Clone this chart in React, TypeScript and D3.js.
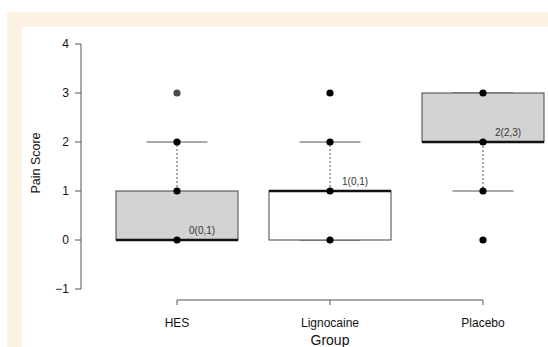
import React from 'react';
import * as d3 from 'd3';

// pain score by group, boxplot summary
const groups = ['HES', 'Lignocaine', 'Placebo'];
const q1 = [0, 0, 2];
const medians = [0, 1, 2];
const q3 = [1, 1, 3];
const whiskLo = [0, 0, 1];
const whiskHi = [2, 2, 3];
const points = [[0, 1, 2], [0, 1, 2, 3], [0, 1, 2, 3]];
const greyPoints = [[3], [], []];
const boxFills = ['#d3d3d3', '#ffffff', '#d3d3d3'];
const annotations = ['0(0,1)', '1(0,1)', '2(2,3)'];
const yTicks = [-1, 0, 1, 2, 3, 4];

const W = 548;
const H = 347;

const App = () => {
  const x = d3.scalePoint().domain(groups).range([177, 483]);
  const y = d3.scaleLinear().domain([-1, 4]).range([289, 44]);
  const boxW = 122;
  const capW = 61;
  const font = "'Liberation Sans', Arial, sans-serif";

  return (
    <svg width={W} height={H} style={{ position: 'absolute', left: 0, top: 0, fontFamily: font }}>
      {/* cream frame */}
      <rect x={0} y={0} width={W} height={H} fill="#fff" />
      <rect x={7} y={12} width={W - 7} height={15} fill="#fcf2e3" />
      <rect x={7} y={12} width={15} height={H - 12} fill="#fcf2e3" />

      {/* y axis */}
      <g stroke="#555" strokeWidth={1}>
        <line x1={81} x2={81} y1={y(-1)} y2={y(4)} />
        {yTicks.map(t => (
          <line key={t} x1={75} x2={81} y1={y(t)} y2={y(t)} />
        ))}
      </g>
      {yTicks.map(t => (
        <text key={t} x={69} y={y(t)} dy="0.35em" textAnchor="end" fontSize={12} fill="#111">
          {t < 0 ? '\u2212' + Math.abs(t) : t}
        </text>
      ))}
      <text transform={`translate(40,163) rotate(-90)`} textAnchor="middle" fontSize={12.5} fill="#111">
        Pain Score
      </text>

      {/* x axis */}
      <g stroke="#555" strokeWidth={1}>
        <line x1={x(groups[0])} x2={x(groups[2])} y1={300} y2={300} />
        {groups.map(g => (
          <line key={g} x1={x(g)} x2={x(g)} y1={300} y2={305} />
        ))}
      </g>
      {groups.map(g => (
        <text key={g} x={x(g)} y={327} textAnchor="middle" fontSize={12} fill="#111">
          {g}
        </text>
      ))}
      <text x={x(groups[1])} y={345} textAnchor="middle" fontSize={14} fill="#111">
        Group
      </text>

      {/* boxes */}
      {groups.map((g, i) => {
        const cx = x(g);
        return (
          <g key={g}>
            <line x1={cx} x2={cx} y1={y(q3[i])} y2={y(whiskHi[i])} stroke="#555" strokeDasharray="2,2" />
            <line x1={cx} x2={cx} y1={y(q1[i])} y2={y(whiskLo[i])} stroke="#555" strokeDasharray="2,2" />
            <line x1={cx - capW / 2} x2={cx + capW / 2} y1={y(whiskHi[i])} y2={y(whiskHi[i])} stroke="#555" />
            <line x1={cx - capW / 2} x2={cx + capW / 2} y1={y(whiskLo[i])} y2={y(whiskLo[i])} stroke="#555" />
            <rect
              x={cx - boxW / 2}
              y={y(q3[i])}
              width={boxW}
              height={y(q1[i]) - y(q3[i])}
              fill={boxFills[i]}
              stroke="#444"
              strokeWidth={1}
            />
            <line
              x1={cx - boxW / 2}
              x2={cx + boxW / 2}
              y1={y(medians[i])}
              y2={y(medians[i])}
              stroke="#111"
              strokeWidth={2.5}
            />
            {points[i].map(v => (
              <circle key={v} cx={cx} cy={y(v)} r={3.6} fill="#000" />
            ))}
            {greyPoints[i].map(v => (
              <circle key={'g' + v} cx={cx} cy={y(v)} r={3.6} fill="#4a4a4a" />
            ))}
            <text x={cx + 12} y={y(medians[i]) - 6} fontSize={10} fill="#333">
              {annotations[i]}
            </text>
          </g>
        );
      })}
    </svg>
  );
};

export default App;
